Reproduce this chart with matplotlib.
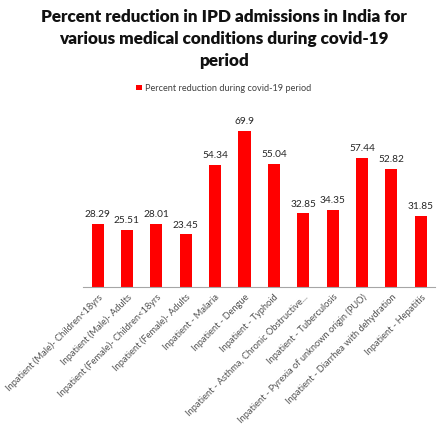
import matplotlib.pyplot as plt

plt.rcParams['font.family'] = ['Lato', 'DejaVu Sans']

# categories and values
categories = [
    'Inpatient (Male)- Children<18yrs',
    'Inpatient (Male)- Adults',
    'Inpatient (Female)- Children<18yrs',
    'Inpatient (Female)- Adults',
    'Inpatient - Malaria',
    'Inpatient - Dengue',
    'Inpatient - Typhoid',
    'Inpatient - Asthma, Chronic Obstructive...',
    'Inpatient - Tuberculosis',
    'Inpatient - Pyrexia of unknown origin (PUO)',
    'Inpatient - Diarrhea with dehydration',
    'Inpatient - Hepatitis',
]
reduction = [28.29, 25.51, 28.01, 23.45, 54.34, 69.9, 55.04, 32.85, 34.35, 57.44, 52.82, 31.85]
series_name = 'Percent reduction during covid-19 period'

fig = plt.figure(figsize=(4.48, 4.30), dpi=100)
ax = fig.add_axes([0.185, 0.3326, 0.787, 0.4164])

x = range(len(categories))
bars = ax.bar(x, reduction, width=0.41, color='#ff0000', label=series_name)
for b, v in zip(bars, reduction):
    ax.text(b.get_x() + b.get_width() / 2, v + 2.2, f'{v:g}', ha='center', va='bottom',
            fontsize=7.3, color='#262626')

ax.set_xlim(-0.5, len(categories) - 0.5)
ax.set_ylim(0, 80)
ax.set_yticks([])
ax.set_xticks(list(x))
ax.set_xticklabels(categories, rotation=45, ha='right', rotation_mode='anchor',
                   fontsize=6.7, color='#505050')
ax.tick_params(axis='x', length=0, pad=4)
for s in ['top', 'right', 'left']:
    ax.spines[s].set_visible(False)
ax.spines['bottom'].set_color('#a6a6a6')

fig.suptitle('Percent reduction in IPD admissions in India for\nvarious medical conditions during covid-19\nperiod',
             x=0.5, y=0.978, fontsize=12.3, fontweight='heavy', linespacing=1.45, color='#111111')

fig.legend(handles=[bars], labels=[series_name], loc='center', bbox_to_anchor=(0.5, 0.795),
           frameon=False, fontsize=6.6, handlelength=0.6, handleheight=0.6, handletextpad=0.4,
           labelcolor='#404040')

fig.savefig('out.png', dpi=100)
